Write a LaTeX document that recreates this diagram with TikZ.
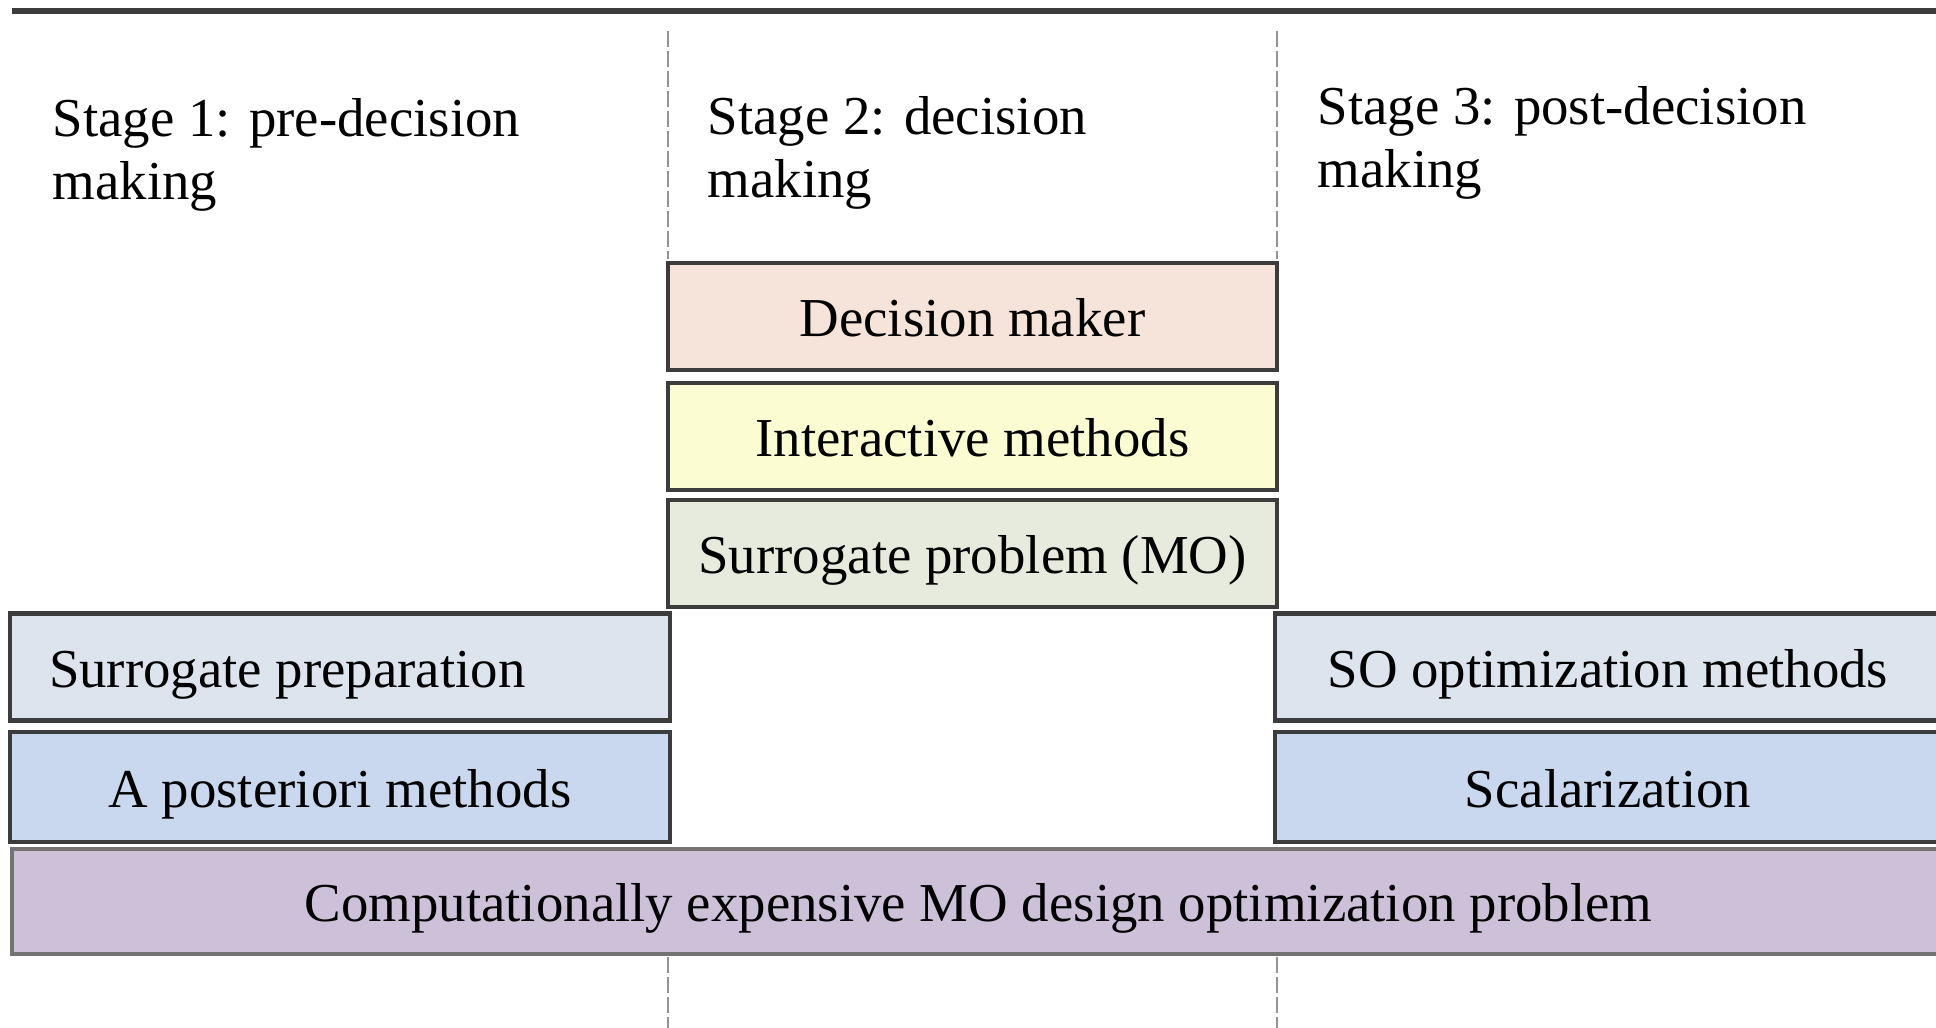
\documentclass[tikz,border=0pt]{standalone}
\usepackage{fontspec}
\setmainfont{Liberation Serif}
\usetikzlibrary{positioning,calc}
\definecolor{dmpeach}{HTML}{F6E3DA}
\definecolor{imyellow}{HTML}{FCFCD3}
\definecolor{spgreen}{HTML}{E7EBDE}
\definecolor{prepblue}{HTML}{DDE4EE}
\definecolor{apblue}{HTML}{C9D8EE}
\definecolor{problav}{HTML}{CDC1D9}
\definecolor{edgegray}{HTML}{3C3C3C}

\begin{document}
\begin{tikzpicture}[x=1cm, y=1cm]
        \tikzset{
            layer/.style={draw=edgegray, rectangle, line width=1.3pt, inner sep=0pt, minimum height=1.07cm, text height=11.4pt, text depth=0pt, font=\fontsize{15.6}{17.9}\selectfont},
            midbox/.style={layer, minimum width=6.09cm},
            sidebox/.style={layer, minimum width=6.6cm},
            stagelabel/.style={anchor=west, align=left, inner sep=0pt, font=\fontsize{15.6}{17.9}\selectfont},
            divider/.style={draw=gray!85, line width=0.7pt, dash pattern=on 0.16cm off 0.04cm}
        }
        \useasboundingbox (0,0) rectangle (19.36,-10.28);

        % Top rule and stage dividers
        \coordinate (ruleL) at (0.12,-0.11);
        \coordinate (ruleR) at (19.36,-0.11);
        \draw [edgegray, line width=1.8pt] (ruleL) -- (ruleR);
        \coordinate (divAtop) at (6.68,-0.31);
        \coordinate (divAbot) at (6.68,-2.59);
        \coordinate (divBtop) at (12.77,-0.31);
        \coordinate (divBbot) at (12.77,-2.59);
        \draw [divider] (divAtop) -- (divAbot);
        \draw [divider] (divBtop) -- (divBbot);
        \coordinate (divAlow) at (6.68,-9.57);
        \coordinate (divAend) at (6.68,-10.28);
        \coordinate (divBlow) at (12.77,-9.57);
        \coordinate (divBend) at (12.77,-10.28);
        \draw [divider] (divAlow) -- (divAend);
        \draw [divider] (divBlow) -- (divBend);

        % Stage titles
        \node [stagelabel] (stage1) at (0.52,-1.55) {Stage 1: pre-decision\\making};
        \node [stagelabel] (stage2) at (7.07,-1.53) {Stage 2: decision\\making};
        \node [stagelabel] (stage3) at (13.17,-1.43) {Stage 3: post-decision\\making};

        % Stage 2 stack
        \node [midbox, fill=dmpeach] (dm) at (9.725,-3.165) {Decision maker};
        \node [midbox, fill=imyellow] (inter) at (9.725,-4.365) {Interactive methods};
        \node [midbox, fill=spgreen] (surmo) at (9.725,-5.535) {Surrogate problem (MO)};

        % Stage 1 stack
        \node [sidebox, fill=prepblue] (prep) at (3.40,-6.67) {\makebox[5.82cm][l]{Surrogate preparation}};
        \node [sidebox, fill=apblue, minimum height=1.10cm] (apost) at (3.40,-7.87) {A posteriori methods};

        % Stage 3 stack
        \node [sidebox, fill=prepblue, minimum width=6.66cm] (soopt) at (16.08,-6.67) {SO optimization methods};
        \node [sidebox, fill=apblue, minimum width=6.66cm, minimum height=1.10cm] (scal) at (16.08,-7.87) {Scalarization};

        % Underlying problem
        \node [layer, fill=problav, draw=gray!90!black, minimum width=19.33cm, minimum height=1.05cm] (problem) at (9.785,-9.015) {Computationally expensive MO design optimization problem};

    \end{tikzpicture}
\end{document}
